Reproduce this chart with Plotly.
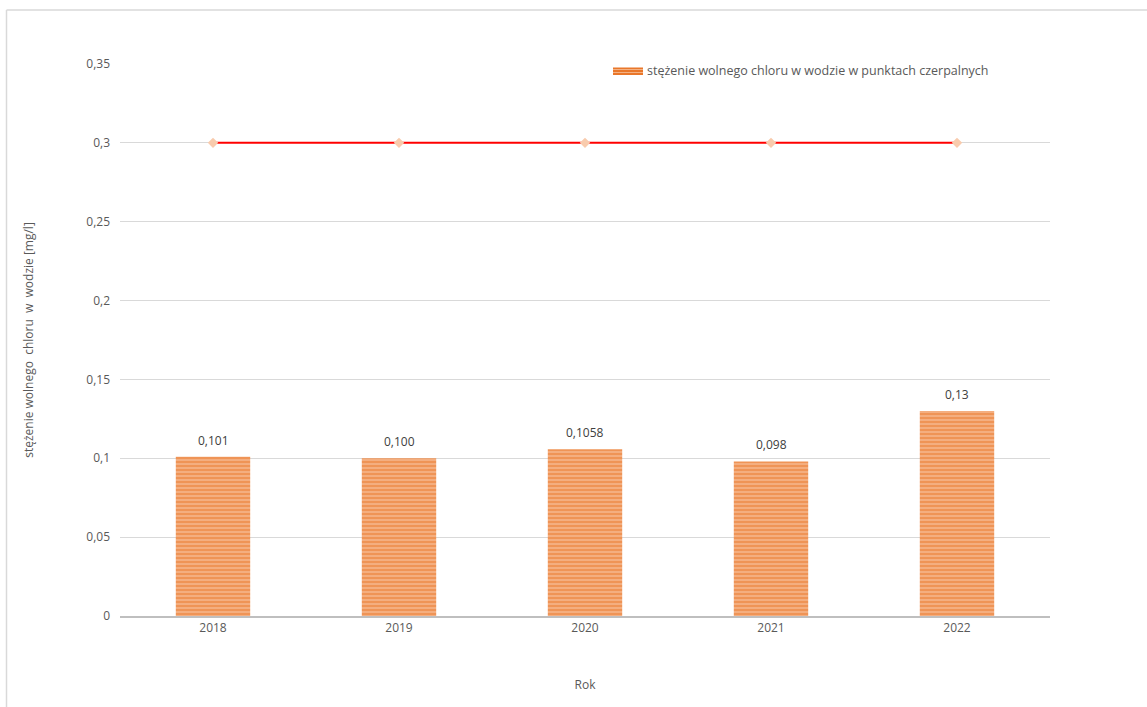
import plotly.graph_objects as go

years = ["2018", "2019", "2020", "2021", "2022"]
chlorine = [0.101, 0.100, 0.1058, 0.098, 0.13]
chlorine_labels = ["0,101", "0,100", "0,1058", "0,098", "0,13"]
limit = [0.3, 0.3, 0.3, 0.3, 0.3]
y_ticks = [0, 0.05, 0.1, 0.15, 0.2, 0.25, 0.3, 0.35]
series_name = "stężenie wolnego chloru w wodzie w punktach czerpalnych"

FONT = "Open Sans, Lato, sans-serif"
TXT = "#595959"

# plot area in pixels: x 120..1050, y 64..616
L, R, T, B = 120, 1050, 64, 616


def px_x(x):
    return (x - L) / (R - L)


def px_y(y):
    return (B - y) / (B - T)


fig = go.Figure()
fig.add_trace(go.Bar(
    x=years, y=chlorine,
    name=series_name,
    showlegend=False,
    width=0.4,
    marker=dict(
        color="#F0A26B",
        line=dict(width=0),
        pattern=dict(shape="-", fgcolor="#E9772A", bgcolor="#F4B183",
                     size=4, solidity=0.55),
    ),
))
fig.add_trace(go.Scatter(
    x=years, y=limit, mode="lines+markers",
    line=dict(color="#FF0000", width=2),
    marker=dict(symbol="diamond", size=8, color="#F8CBAD"),
    showlegend=False,
))

# value labels above the bars
for i, (v, lab) in enumerate(zip(chlorine, chlorine_labels)):
    fig.add_annotation(x=i, y=v, text=lab, showarrow=False,
                       yanchor="bottom", yshift=6,
                       font=dict(size=12, color="#404040", family=FONT))

# legend entry: striped swatch + label
fig.add_shape(type="rect", xref="paper", yref="paper",
              x0=px_x(613), x1=px_x(643), y0=px_y(75), y1=px_y(67.5),
              fillcolor="#E9772A", line=dict(width=0))
for yy in (69.5, 72.5):
    fig.add_shape(type="line", xref="paper", yref="paper",
                  x0=px_x(613), x1=px_x(643), y0=px_y(yy), y1=px_y(yy),
                  line=dict(color="#F4B183", width=1))
fig.add_annotation(xref="paper", yref="paper", x=px_x(645), y=px_y(71),
                   xanchor="left", yanchor="middle", showarrow=False,
                   text=series_name, font=dict(size=12.5, color=TXT, family=FONT))

# outer chart frame (top and left edges)
fig.add_shape(type="line", xref="paper", yref="paper",
              x0=px_x(6.5), x1=px_x(1147), y0=px_y(10), y1=px_y(10),
              line=dict(color="#D9D9D9", width=1.5))
fig.add_shape(type="line", xref="paper", yref="paper",
              x0=px_x(6.5), x1=px_x(6.5), y0=px_y(710), y1=px_y(10),
              line=dict(color="#D9D9D9", width=1.5))

fig.update_layout(
    width=1147, height=707,
    margin=dict(l=L, r=1147 - R, t=T, b=707 - B),
    paper_bgcolor="white", plot_bgcolor="white",
    separators=", ",
    font=dict(family=FONT, size=12, color=TXT),
    bargap=0.6,
    xaxis=dict(
        type="category",
        title=dict(text="Rok", standoff=45, font=dict(size=12, color=TXT)),
        showgrid=False, showline=True, linecolor="#BFBFBF", linewidth=2,
        ticks="", tickfont=dict(size=12, color=TXT),
    ),
    yaxis=dict(
        title=dict(text="stężenie wolnego  chloru  w  wodzie [mg/l]",
                   standoff=50, font=dict(size=12, color=TXT)),
        range=[0, 0.35], tickvals=y_ticks,
        showgrid=True, gridcolor="#D9D9D9", gridwidth=1,
        zeroline=False, showline=False, ticks="",
        ticklabelstandoff=9,
        tickfont=dict(size=12, color=TXT),
    ),
)

fig.write_html("out.html")
